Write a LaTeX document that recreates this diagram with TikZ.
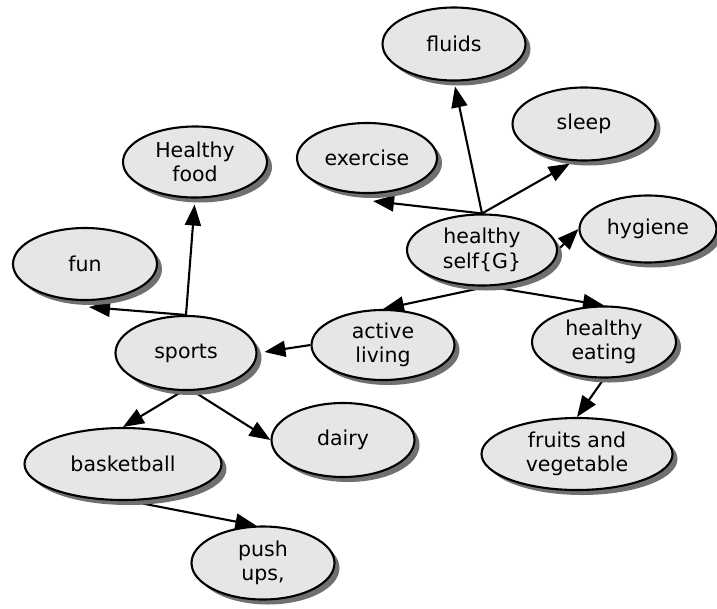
\documentclass[tikz,border=0pt]{standalone}
\usepackage{fontspec}
\setmainfont{DejaVu Sans}
\usetikzlibrary{shapes.geometric,shadows,arrows.meta,backgrounds,calc}
\definecolor{nodefill}{HTML}{E6E6E6}
\definecolor{shadowgray}{HTML}{707070}
\begin{document}
\begin{tikzpicture}[x=1pt,y=-1pt,
  concept/.style={ellipse,draw=black,line width=2.1pt,fill=nodefill,inner sep=0pt,
    align=center,font=\fontsize{20.5}{24.5}\selectfont,
    drop shadow={shadow xshift=5pt,shadow yshift=-5pt,fill=shadowgray,opacity=1}},
  link/.style={line width=2.1pt,-{Triangle[length=21pt,width=16pt]}}]
\useasboundingbox (0,0) rectangle (717,608);

\node[concept,minimum width=143pt,minimum height=73pt] (fluids) at (454,44) {fluids};
\node[concept,minimum width=143pt,minimum height=73pt] (sleep) at (584,124) {sleep};
\node[concept,minimum width=140pt,minimum height=70pt] (ex) at (367,158) {exercise};
\node[concept,minimum width=144pt,minimum height=71pt] (hf) at (195,162) {Healthy\\food};
\node[concept,minimum width=137pt,minimum height=67pt] (hyg) at (648,229) {hygiene};
\node[concept,minimum width=150pt,minimum height=71pt] (hs) at (482,250) {healthy\\self\{G\}};
\node[concept,minimum width=144pt,minimum height=72pt] (fun) at (85,264) {fun};
\node[concept,minimum width=143pt,minimum height=70pt] (al) at (383,345) {active\\living};
\node[concept,minimum width=144pt,minimum height=71pt] (he) at (604,342) {healthy\\eating};
\node[concept,minimum width=141pt,minimum height=74pt] (sp) at (186,353) {sports};
\node[concept,minimum width=197pt,minimum height=72pt] (bb) at (123,464) {basketball};
\node[concept,minimum width=143pt,minimum height=74pt] (dairy) at (343,440) {dairy};
\node[concept,minimum width=191pt,minimum height=72pt] (fv) at (577,454) {fruits and\\vegetable};
\node[concept,minimum width=143pt,minimum height=73pt] (pu) at (263,563) {push\\ups,};

\begin{scope}[on background layer]
\draw[link,shorten >=5pt] (hs.north) -- (fluids.south);
\draw[link,shorten >=5pt] (hs.north) -- (sleep.-105);
\draw[link] (hs.north) -- ($(ex.south)+(6,7)$);
\draw[link] (hs.east) -- (hyg.west);
\draw[link] (hs.-80) -- (al.north);
\draw[link] (hs.-80) -- (he.north);
\draw[link,shorten >=7pt] (al.west) -- (sp.east);
\draw[link,shorten >=6pt] (sp.north) -- (hf.south);
\draw[link] (sp.north) -- ($(fun.south)+(4,6)$);
\draw[link] (sp.-95) -- (bb.north);
\draw[link] (sp.-80) -- (dairy.west);
\draw[link] (bb.-80) -- (pu.100);
\draw[link] (he.south) -- (fv.north);
\end{scope}
\end{tikzpicture}
\end{document}
